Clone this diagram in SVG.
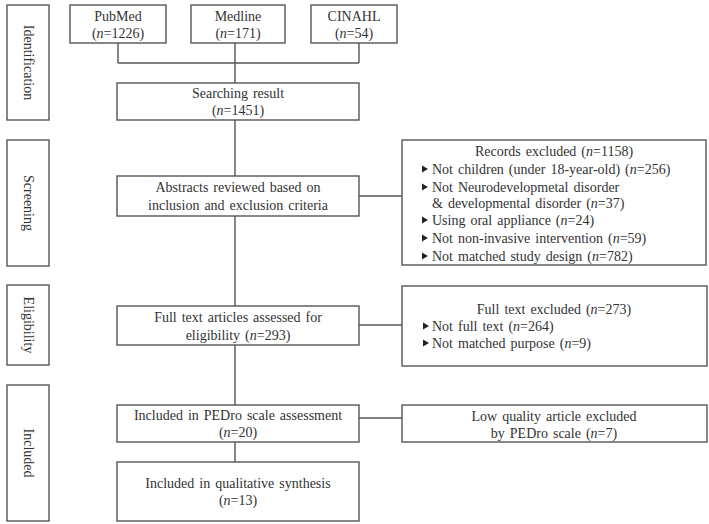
<svg xmlns="http://www.w3.org/2000/svg" width="709" height="524" viewBox="0 0 709 524">
<style>
.box{fill:#fff;stroke:#555;stroke-width:1.4}
.ln{fill:none;stroke:#555;stroke-width:1.4}
text{font-family:"Liberation Serif","DejaVu Serif",serif;font-size:14px;fill:#333;word-spacing:1.5px}
.c{text-anchor:middle}
.i{font-style:italic}
</style>
<defs>
<polygon id="tri" points="0,-3.5 6,0 0,3.5" fill="#222"/>
</defs>
<rect width="709" height="524" fill="#fff"/>
<g id="connectors">
<path class="ln" d="M118,43V63M235,43V83M359,43V63M118,63H359"/>
<path class="ln" d="M235,120V176M235,216V306M235,345V405M235,442V462"/>
<path class="ln" d="M359,196H402M359,325H402M359,418H402"/>
</g>
<g id="stage-identification"><rect class="box" x="7" y="5" width="42" height="115"/><text class="c" transform="translate(28,62.5) rotate(90)" dy="4.5">Identification</text></g>
<g id="stage-screening"><rect class="box" x="7" y="140" width="42" height="126"/><text class="c" transform="translate(28,203) rotate(90)" dy="4.5">Screening</text></g>
<g id="stage-eligibility"><rect class="box" x="7" y="285" width="42" height="80"/><text class="c" transform="translate(28,325) rotate(90)" dy="4.5">Eligibility</text></g>
<g id="stage-included"><rect class="box" x="7" y="385" width="42" height="136"/><text class="c" transform="translate(28,453) rotate(90)" dy="4.5">Included</text></g>
<g id="pubmed"><rect class="box" x="70" y="5" width="96" height="38"/><text class="c" x="118" y="21">PubMed</text><text class="c" x="118" y="38">(<tspan class="i">n</tspan>=1226)</text></g>
<g id="medline"><rect class="box" x="191" y="5" width="94" height="38"/><text class="c" x="238" y="21">Medline</text><text class="c" x="238" y="38">(<tspan class="i">n</tspan>=171)</text></g>
<g id="cinahl"><rect class="box" x="311" y="5" width="86" height="38"/><text class="c" x="354" y="21">CINAHL</text><text class="c" x="354" y="38">(<tspan class="i">n</tspan>=54)</text></g>
<g id="searching"><rect class="box" x="117" y="83" width="242" height="37"/><text class="c" x="238" y="98">Searching result</text><text class="c" x="238" y="115">(<tspan class="i">n</tspan>=1451)</text></g>
<g id="abstracts"><rect class="box" x="117" y="176" width="242" height="40"/><text class="c" x="238" y="192">Abstracts reviewed based on</text><text class="c" x="238" y="210">inclusion and exclusion criteria</text></g>
<g id="records-excluded"><rect class="box" x="402" y="140" width="304" height="125"/>
<text class="c" x="554" y="156">Records excluded (<tspan class="i">n</tspan>=1158)</text>
<use href="#tri" x="422" y="169"/><text x="432" y="174">Not children (under 18-year-old) (<tspan class="i">n</tspan>=256)</text>
<use href="#tri" x="422" y="187"/><text x="432" y="192">Not Neurodevelopmetal disorder</text>
<text x="432" y="208">&amp; developmental disorder (<tspan class="i">n</tspan>=37)</text>
<use href="#tri" x="422" y="220"/><text x="432" y="225">Using oral appliance (<tspan class="i">n</tspan>=24)</text>
<use href="#tri" x="422" y="238"/><text x="432" y="243">Not non-invasive intervention (<tspan class="i">n</tspan>=59)</text>
<use href="#tri" x="422" y="256"/><text x="432" y="261">Not matched study design (<tspan class="i">n</tspan>=782)</text>
</g>
<g id="fulltext"><rect class="box" x="117" y="306" width="242" height="39"/><text class="c" x="238" y="322">Full text articles assessed for</text><text class="c" x="238" y="340">eligibility (<tspan class="i">n</tspan>=293)</text></g>
<g id="fulltext-excluded"><rect class="box" x="402" y="286" width="305" height="80"/>
<text class="c" x="554" y="314">Full text excluded (<tspan class="i">n</tspan>=273)</text>
<use href="#tri" x="423" y="326"/><text x="432" y="331">Not full text (<tspan class="i">n</tspan>=264)</text>
<use href="#tri" x="423" y="343"/><text x="432" y="348">Not matched purpose (<tspan class="i">n</tspan>=9)</text>
</g>
<g id="pedro"><rect class="box" x="117" y="405" width="242" height="37"/><text class="c" x="238" y="420">Included in PEDro scale assessment</text><text class="c" x="238" y="437">(<tspan class="i">n</tspan>=20)</text></g>
<g id="low-quality"><rect class="box" x="402" y="405" width="305" height="37"/><text class="c" x="554" y="421">Low quality article excluded</text><text class="c" x="554" y="438">by PEDro scale (<tspan class="i">n</tspan>=7)</text></g>
<g id="qualitative"><rect class="box" x="117" y="462" width="242" height="59"/><text class="c" x="238" y="488">Included in qualitative synthesis</text><text class="c" x="238" y="505">(<tspan class="i">n</tspan>=13)</text></g>
</svg>
